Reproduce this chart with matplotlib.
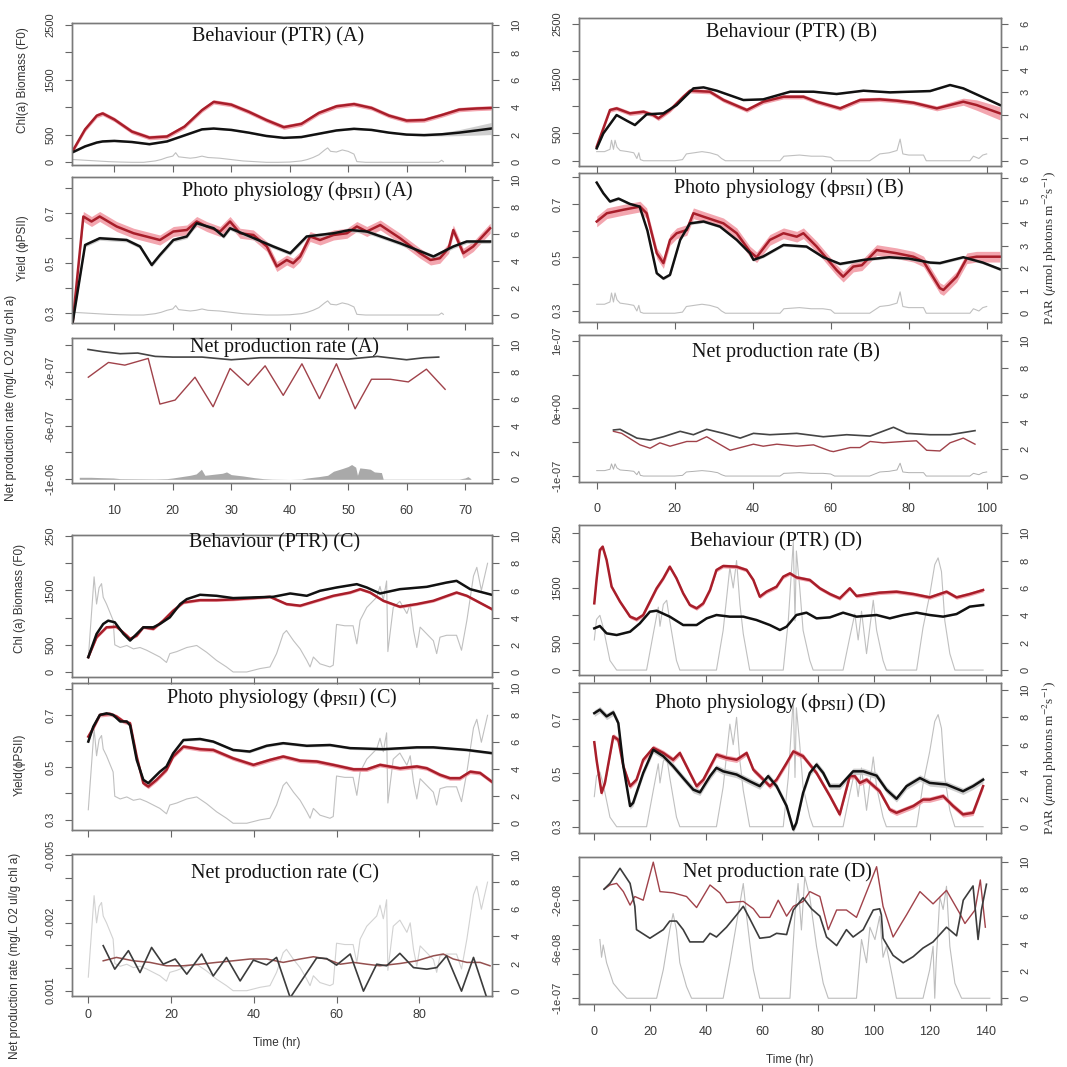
import numpy as np
import matplotlib.pyplot as plt

plt.rcParams['mathtext.fontset'] = 'stix'
plt.rcParams['xtick.direction'] = 'out'
plt.rcParams['ytick.direction'] = 'out'

# ---------------- experiment A ----------------
bio_a_x = [3, 5, 7, 8, 10, 13, 16, 19, 22, 25, 27, 30, 33, 36, 39, 42, 45, 48, 51, 54, 57, 60, 63, 66, 69, 72, 74.5]
bio_a_red = [230, 600, 850, 890, 780, 560, 450, 470, 650, 950, 1100, 1050, 920, 770, 640, 700, 900, 1020, 1060,
             990, 850, 760, 770, 860, 960, 980, 990]
bio_a_black = [190, 290, 360, 380, 390, 370, 330, 380, 490, 600, 615, 590, 540, 480, 445, 460, 520, 580, 610,
               590, 540, 505, 495, 510, 540, 580, 615]
bio_a_black_sd = [15, 15, 15, 15, 15, 15, 15, 15, 15, 15, 15, 15, 15, 15, 15, 15, 15, 15, 15, 15, 15, 15, 20,
                  30, 55, 85, 110]

par_a_x = [3, 5, 7, 9, 11, 13, 15, 17, 18, 19, 20, 20.5, 21, 22, 23, 24, 25, 26, 28, 30, 32, 34, 36, 38, 40,
           42, 43, 44, 45, 46, 46.5, 47, 48, 49, 50, 50.5, 51, 51.5, 53, 55, 58, 61, 64, 65.5, 66, 66.3]
par_a = [0.2, 0.15, 0.1, 0.05, 0.02, 0, 0, 0.1, 0.2, 0.35, 0.45, 0.7, 0.4, 0.35, 0.3, 0.35, 0.45, 0.35, 0.3,
         0.2, 0.1, 0.05, 0, 0, 0.02, 0.1, 0.2, 0.35, 0.55, 0.9, 1.05, 0.8, 0.75, 0.9, 0.8, 0.7, 0.6, 0.05, 0, 0,
         0, 0, 0, 0, 0.15, 0.05]

phot_a_red_x = [2.9, 4.7, 6.1, 7.5, 10.4, 13.3, 17.8, 20.1, 22.4, 24.1, 25.8, 28.1, 29.8, 31.5, 33.8, 36.1,
                37.8, 39.5, 40.6, 41.8, 43.5, 45.2, 47.5, 49.8, 51.5, 53.2, 55.5, 58.9, 62.3, 64.1, 65.7, 67.2,
                68, 69.7, 71.4, 74.3]
phot_a_red = [0.267, 0.687, 0.667, 0.687, 0.647, 0.62, 0.593, 0.627, 0.633, 0.667, 0.647, 0.627, 0.667, 0.62,
              0.613, 0.567, 0.487, 0.513, 0.5, 0.527, 0.607, 0.593, 0.613, 0.62, 0.647, 0.627, 0.653, 0.6, 0.54,
              0.513, 0.52, 0.56, 0.633, 0.54, 0.567, 0.64]
phot_a_black_x = [2.9, 5, 7.5, 12.1, 14.4, 16.4, 17.8, 20.1, 22.4, 24.1, 27, 28.7, 29.8, 33.2, 37.2, 40.1,
                  42.9, 47.5, 50.3, 53.2, 58.9, 64.6, 68, 70.3, 74.3]
phot_a_black = [0.267, 0.573, 0.6, 0.593, 0.567, 0.493, 0.533, 0.593, 0.607, 0.66, 0.64, 0.607, 0.64, 0.607,
                0.567, 0.54, 0.607, 0.62, 0.633, 0.627, 0.58, 0.527, 0.567, 0.587, 0.587]

net_a_black_x = [5.5, 8, 11, 14, 17, 20, 25, 30, 35, 40, 45, 50, 55, 60, 63, 65.5]
net_a_black = [-3.3e-8, -5e-8, -6.5e-8, -6e-8, -8.5e-8, -9e-8, -9e-8, -1.1e-7, -9.5e-8, -9.5e-8, -1.0e-7,
               -1.05e-7, -8.5e-8, -1.1e-7, -9.5e-8, -9e-8]
net_a_red_x = [5.55, 9.0, 11.8, 15.8, 17.8, 20.4, 23.8, 26.9, 29.8, 32.9, 35.8, 38.9, 42.1, 45.1, 48.0, 51.2,
               54.0, 57.2, 60.3, 63.4, 66.6]
net_a_red = [-2.4e-7, -1.3e-7, -1.5e-7, -1.0e-7, -4.4e-7, -4.1e-7, -2.4e-7, -4.6e-7, -1.75e-7, -3.0e-7,
             -1.55e-7, -3.75e-7, -1.4e-7, -4.0e-7, -1.4e-7, -4.75e-7, -2.55e-7, -2.55e-7, -2.75e-7, -1.8e-7,
             -3.3e-7]
par_a_net_x = [4, 6, 8, 9.8, 11, 14, 17, 19, 20, 21.5, 23, 24, 24.9, 25.5, 26.5, 27.5, 28.5, 29.2, 30, 32, 34,
               35.5, 37, 40, 42, 43, 45, 46.5, 47.5, 49, 50, 50.6, 51.3, 51.6, 52, 53, 53.8, 54.5, 55.7, 56, 58,
               62, 66, 69, 70, 70.5, 71]
par_a_net = [0.15, 0.15, 0.12, 0.1, 0.05, 0.04, 0.03, 0.05, 0.1, 0.2, 0.3, 0.4, 0.75, 0.3, 0.35, 0.4, 0.45,
             0.55, 0.35, 0.25, 0.12, 0.05, 0.02, 0, 0.02, 0.1, 0.2, 0.3, 0.6, 0.8, 0.95, 1.1, 0.9, 0.3, 0.85,
             0.8, 0.75, 0.55, 0.5, 0.02, 0.02, 0.02, 0.02, 0.02, 0.1, 0.2, 0.05]

# ---------------- experiment B ----------------
bio_b_red_x = [0, 3.4, 5.1, 8.5, 12, 14.5, 15.8, 18.8, 22.2, 23.9, 29, 32.5, 38.5, 42.7, 47.9, 53, 56.4, 62.4,
               67.5, 72.6, 76.9, 81.2, 87.2, 94, 97.4, 103.4]
bio_b_red = [256, 927, 957, 866, 896, 835, 774, 927, 1170, 1280, 1262, 1110, 927, 1079, 1170, 1170, 1079, 957,
             1110, 1122, 1098, 1061, 957, 1079, 1018, 866]
bio_b_red_sd = [40, 40, 40, 40, 40, 40, 40, 40, 40, 40, 40, 40, 40, 40, 40, 40, 40, 40, 40, 40, 40, 40, 45,
                65, 95, 120]
bio_b_black_x = [0, 1.7, 5.1, 7.7, 9.8, 12.8, 17.1, 20.5, 24.8, 27.4, 30.8, 37.6, 42.7, 49.6, 55.6, 61.5, 68.4,
                 75.2, 85.5, 90.6, 94, 103.4]
bio_b_black = [226, 500, 835, 732, 652, 848, 866, 1018, 1323, 1341, 1280, 1110, 1122, 1262, 1262, 1220, 1280,
               1250, 1274, 1384, 1323, 1018]

par_b_x = [0, 2, 3.4, 3.8, 4.3, 4.7, 5.2, 6, 8, 9.5, 10.3, 10.8, 11.2, 12, 20, 22, 23, 25, 27, 29, 30, 31, 32,
           33, 40, 47, 48, 52, 55, 58, 60, 61, 70, 72.6, 75, 77, 77.8, 78.5, 80, 83.8, 84.5, 90, 95.7, 96.6, 98,
           99, 100]
par_b = [0.4, 0.4, 0.5, 0.9, 0.5, 0.9, 0.6, 0.45, 0.4, 0.35, 0.1, 0.35, 0.05, 0, 0, 0.05, 0.3, 0.35, 0.4, 0.35,
         0.3, 0.25, 0.1, 0, 0, 0, 0.2, 0.25, 0.2, 0.2, 0.15, 0, 0, 0.3, 0.35, 0.45, 0.95, 0.3, 0.25, 0.25, 0, 0,
         0, 0.2, 0.1, 0.25, 0.3]

phot_b_black_x = [0, 1.7, 3.4, 5.6, 8.5, 11, 13, 15.4, 17.1, 18.8, 21.4, 23.9, 27.4, 31.6, 35.9, 39.3, 40.2,
                  42.7, 47.9, 53.8, 58.1, 62.4, 68.4, 75, 80, 85.5, 88, 94, 99, 103.4]
phot_b_black = [0.78, 0.74, 0.709, 0.72, 0.7, 0.69, 0.6, 0.44, 0.42, 0.434, 0.565, 0.627, 0.634, 0.615, 0.565,
                0.515, 0.49, 0.503, 0.546, 0.54, 0.5, 0.475, 0.49, 0.5, 0.495, 0.48, 0.478, 0.5, 0.48, 0.455]
phot_b_red_x = [0, 2.6, 6.8, 11.1, 12.8, 15.4, 17.1, 18.8, 20.5, 23.1, 24.8, 27.4, 32.5, 35.9, 39.3, 41, 44.4,
                47.9, 51.3, 53, 56.4, 61.5, 63.2, 65.8, 68, 71.8, 76.9, 81.2, 83.8, 88, 88.9, 92.3, 94.9, 97.4,
                103.4]
phot_b_red = [0.634, 0.665, 0.678, 0.69, 0.665, 0.515, 0.478, 0.565, 0.59, 0.602, 0.665, 0.652, 0.627, 0.59,
              0.521, 0.5, 0.565, 0.59, 0.577, 0.59, 0.54, 0.452, 0.427, 0.465, 0.47, 0.527, 0.515, 0.502, 0.484,
              0.384, 0.377, 0.427, 0.496, 0.502, 0.502]

net_b_black_x = [4.3, 6, 10.3, 13.7, 17.1, 21.4, 24.8, 28.2, 32.5, 36.8, 40.2, 44.4, 51.3, 58.1, 64.1, 70.1,
                 76.1, 79.5, 85.5, 90.6, 97]
net_b_black = [-3.2e-8, -3.1e-8, -4.4e-8, -4.7e-8, -4.2e-8, -3.4e-8, -3.9e-8, -3.1e-8, -3.7e-8, -4.4e-8,
               -3.7e-8, -3.9e-8, -3.7e-8, -4.2e-8, -3.9e-8, -4.1e-8, -2.8e-8, -3.7e-8, -3.9e-8, -3.9e-8, -3.3e-8]
net_b_red_x = [4.3, 6.4, 11.1, 13.7, 16.2, 18.8, 23.1, 25.6, 28.2, 34.2, 40.2, 42.7, 46.2, 51.3, 55.6, 59.8,
               60.7, 65, 67.5, 70.1, 73.5, 78.6, 82, 84.6, 88, 90.6, 94, 97]
net_b_red = [-3.4e-8, -3.7e-8, -5.4e-8, -5.9e-8, -5.1e-8, -5.6e-8, -4.9e-8, -4.9e-8, -4.2e-8, -6.2e-8,
             -5.3e-8, -5.6e-8, -5.3e-8, -5.6e-8, -5.4e-8, -6.3e-8, -6.4e-8, -5.8e-8, -5.8e-8, -4.9e-8, -5.1e-8,
             -4.9e-8, -4.8e-8, -6.2e-8, -6.3e-8, -5.1e-8, -4.4e-8, -5.3e-8]

# ---------------- experiment C ----------------
bio_c_black_x = [0, 2, 3.6, 4.8, 6.4, 8.5, 10.1, 11.7, 13.3, 15.7, 17.3, 19.7, 22.2, 23.8, 27, 31, 35, 39.9,
                 44.7, 48.8, 52.8, 56, 60, 64.9, 67.3, 70.5, 75.3, 81.8, 86.6, 89, 92.3, 97.5]
bio_c_black = [274, 701, 884, 945, 915, 701, 579, 701, 823, 823, 884, 1006, 1250, 1341, 1421, 1402, 1360, 1372,
               1384, 1445, 1402, 1494, 1555, 1616, 1555, 1445, 1524, 1567, 1646, 1677, 1524, 1421]
bio_c_red_x = [0, 2, 4.4, 6.8, 9.3, 10.1, 11.7, 13.3, 15.7, 18.1, 20.5, 23, 27, 31, 35, 39.9, 43.9, 47.9,
               51.2, 55.2, 59.2, 63.3, 65.7, 68.1, 71.3, 75.3, 79.4, 83.4, 89, 91.5, 97.5]
bio_c_red = [274, 640, 823, 835, 671, 610, 671, 823, 793, 945, 1128, 1280, 1323, 1323, 1335, 1360, 1384, 1250,
             1220, 1311, 1402, 1463, 1524, 1463, 1311, 1201, 1250, 1311, 1463, 1402, 1159]

par_c_x = [0, 1.4, 2, 2.6, 3.2, 3.6, 4.4, 5.2, 6, 6.4, 7.7, 9.3, 10.9, 12.5, 14.1, 15.7, 17.3, 18.9, 19.7,
           21.4, 23.8, 26.2, 28.6, 31, 33.4, 35, 38.3, 41.5, 43.9, 45.5, 47.1, 47.9, 49.6, 51.2, 52.8, 53.6,
           54.4, 56, 58.4, 59.2, 60, 62, 64, 64.9, 65.7, 67.3, 69.7, 70.5, 71.3, 72.1, 72.4, 73.7, 75.3, 77,
           77.8, 78.6, 79.4, 80.2, 81.8, 83.4, 84.2, 85, 86.6, 89, 90.2, 91.5, 93.1, 93.9, 95, 96.5]
par_c = [1.0, 7.0, 5.0, 6.2, 6.5, 5.5, 5.0, 4.4, 3.8, 2.0, 1.8, 1.95, 1.7, 1.8, 1.6, 1.35, 1.1, 0.7, 1.35, 1.5,
         1.8, 1.95, 1.45, 0.85, 0.37, 0.0, 0.0, 0.25, 0.37, 1.35, 2.8, 3.05, 2.3, 1.7, 0.85, 0.37, 1.1, 0.6,
         0.37, 0.5, 3.5, 3.4, 3.4, 2.07, 3.8, 4.75, 5.5, 6.3, 5.3, 6.7, 1.5, 4.75, 5.2, 4.3, 5.0, 3.05, 1.8,
         3.3, 2.8, 2.3, 1.35, 2.56, 2.7, 2.7, 1.6, 3.8, 7.07, 7.7, 6.0, 8.0]

phot_c_black_x = [0, 1.2, 2.8, 4.4, 6, 7.7, 9.3, 10.1, 11.7, 13.3, 14.5, 15.7, 17.3, 18.9, 20.5, 23, 27, 30.2,
                  35, 39, 43.1, 47.1, 52.8, 58.4, 63.3, 71.3, 79.4, 83.4, 91.5, 97.5]
phot_c_black = [0.598, 0.655, 0.7, 0.706, 0.7, 0.675, 0.675, 0.66, 0.528, 0.452, 0.439, 0.458, 0.483, 0.503,
                0.553, 0.604, 0.608, 0.598, 0.566, 0.56, 0.582, 0.592, 0.582, 0.585, 0.573, 0.569, 0.576,
                0.576, 0.566, 0.554]
phot_c_red_x = [0, 1.2, 2.8, 5.2, 6.8, 8.5, 10.1, 11.7, 13.3, 14.5, 16.5, 18.9, 20.5, 23, 27, 30.2, 35, 39.9,
                43.9, 47.1, 51.2, 55.2, 59.2, 64.1, 67.3, 70.5, 75.3, 79.4, 81.8, 85, 87.4, 89.8, 92.3, 94.7,
                97.5]
phot_c_red = [0.617, 0.65, 0.7, 0.704, 0.694, 0.675, 0.668, 0.541, 0.439, 0.426, 0.452, 0.49, 0.541, 0.579,
              0.569, 0.566, 0.534, 0.509, 0.528, 0.541, 0.525, 0.522, 0.509, 0.492, 0.492, 0.509, 0.496, 0.503,
              0.496, 0.471, 0.458, 0.458, 0.483, 0.478, 0.445]

net_c_black_x = [3.6, 6.4, 9.7, 12.5, 15.3, 18.1, 21, 23.8, 27.4, 30.2, 33.4, 36.7, 39.9, 43.1, 45.5, 48.8,
                 55.2, 57.6, 60, 63.3, 66.5, 69.7, 72.1, 75.3, 78.6, 81.8, 84.2, 86.6, 90.2, 93.1, 96.3]
net_c_black = [-0.00099, 0.00005, -0.00077, 0.0002, -0.00091, -0.00017, -0.0004, 0.00027, -0.00062, 0.00035,
               -0.00047, 0.00057, -0.00035, -0.00014, -0.00047, 0.00131, -0.00045, -0.00042, -0.00013,
               -0.00062, 0.00102, -0.00017, -0.0001, -0.00065, -0.00002, 0.00005, -0.00002, -0.00054, 0.00102,
               -0.00047, 0.00131]
net_c_red_x = [3.6, 6.8, 10.9, 14.9, 18.9, 22.9, 27, 31, 35, 39.1, 43.1, 47.1, 51.2, 54.4, 57.6, 60.9, 64.1,
               67.3, 70.5, 75.3, 79.4, 83.4, 85.8, 88.2, 91.5, 94.7, 97.1]
net_c_red = [-0.00032, -0.00047, -0.00032, -0.00025, -0.0001, -0.0001, -0.00017, -0.00025, -0.00032, -0.0004,
             -0.0004, -0.00025, -0.0004, -0.0005, -0.0004, -0.00017, -0.00025, -0.00017, -0.0001, -0.0002,
             -0.00032, -0.00054, -0.00062, -0.0004, -0.00025, -0.00025, -0.0001]

# ---------------- experiment D ----------------
bio_d_red_x = [0, 0.8, 2, 3, 4.4, 6.2, 9.2, 12.8, 15.1, 17.5, 19.9, 22.3, 24.7, 27, 29.4, 31.8, 34.2, 36.6, 39,
               41.4, 43.7, 46.1, 50.9, 54.5, 56.9, 59.2, 61.6, 65.2, 67.6, 70, 72.3, 77.1, 80.7, 84.3, 87.8,
               91.4, 93.8, 96.2, 102.1, 108.1, 114.1, 120, 126, 129.6, 134.3, 139.1]
bio_d_red = [1220, 1646, 2195, 2256, 2012, 1524, 1250, 976, 927, 1006, 1250, 1494, 1677, 1890, 1677, 1402, 1189,
             1128, 1220, 1463, 1829, 1902, 1890, 1829, 1646, 1341, 1433, 1524, 1707, 1768, 1695, 1646, 1494,
             1390, 1311, 1494, 1354, 1372, 1415, 1433, 1390, 1329, 1433, 1329, 1390, 1463]
bio_d_black_x = [0, 2, 4.4, 8, 12.8, 16.3, 19.9, 22.3, 27, 31.8, 36.6, 40.2, 43.7, 48.5, 53.3, 58, 62.8, 66.4,
                 68.8, 72.3, 75.9, 79.5, 84.3, 89, 93.8, 101, 105.7, 110.5, 115.3, 120, 124.8, 129.6, 134.3,
                 139.1]
bio_d_black = [762, 805, 671, 640, 701, 854, 1067, 1085, 976, 823, 823, 945, 1006, 976, 976, 915, 823, 732, 793,
               1006, 1049, 945, 963, 1049, 976, 1006, 945, 1006, 1049, 1006, 976, 1024, 1159, 1189]

par_d_x = [0, 0.8, 2, 3.2, 5.6, 8, 18.7, 21.1, 22.9, 23.5, 24.7, 25.9, 27, 29.4, 30.6, 43.7, 46.1, 48.5, 49.7,
           50.9, 52.1, 53.3, 55.6, 67.6, 69.4, 71.2, 71.8, 72.3, 73.5, 74.7, 77.1, 78.3, 89, 91.4, 93.2, 94.4,
           95.6, 97.4, 99.8, 101, 103.3, 104.5, 115.3, 117.6, 120, 121.8, 123, 124.2, 125.4, 127.2, 129, 139.1]
par_d = [2.2, 3.7, 4.0, 3.1, 0.7, 0, 0, 2.65, 4.6, 3.2, 4.8, 5.1, 3.6, 0.7, 0, 0, 2.9, 7.5, 6.0, 8.0, 4.8, 2.65,
         0, 0, 3.6, 9.4, 3.6, 8.7, 6.0, 2.9, 0.7, 0, 0, 2.4, 4.1, 2.2, 4.3, 1.2, 5.1, 2.9, 0.7, 0, 0, 3.1, 5.5,
         7.7, 8.2, 7.2, 3.6, 1.2, 0, 0]

phot_d_black_x = [0, 2, 4.4, 6.8, 8.6, 10.4, 12.8, 13.9, 17.5, 21.1, 24.7, 28.2, 31.8, 35.4, 37.8, 41.4, 43.7,
                  46.1, 50.9, 55.6, 59.2, 62.2, 65.2, 68.8, 71.2, 72.3, 74.7, 77.1, 79.5, 81.9, 84.3, 87.8, 92.6,
                  96.2, 101, 104.5, 108.1, 111.7, 116.5, 120, 126, 131.9, 135.5, 139.1]
phot_d_black = [0.722, 0.735, 0.71, 0.725, 0.685, 0.525, 0.377, 0.389, 0.5, 0.586, 0.562, 0.525, 0.481, 0.438,
                0.428, 0.488, 0.519, 0.506, 0.494, 0.469, 0.451, 0.488, 0.451, 0.377, 0.29, 0.315, 0.426, 0.5,
                0.531, 0.5, 0.451, 0.451, 0.506, 0.506, 0.49, 0.438, 0.404, 0.451, 0.481, 0.463, 0.457, 0.432,
                0.451, 0.475]
phot_d_red_x = [0, 0.8, 2.6, 3.8, 6.8, 8.6, 10.4, 12.8, 15.1, 17.5, 21.1, 24.7, 28.2, 30.6, 34.2, 36.6, 39,
                43.7, 47.3, 50.9, 54.5, 56.9, 60.5, 62.8, 65.2, 68.8, 71.2, 74.7, 79.5, 84.3, 87.8, 91.4, 93.2,
                95, 97.4, 102.1, 105.7, 108.1, 114.1, 117.6, 120, 124.8, 128.4, 131.9, 135.5, 139.1]
phot_d_red = [0.614, 0.549, 0.426, 0.463, 0.636, 0.623, 0.525, 0.451, 0.475, 0.549, 0.593, 0.574, 0.549, 0.574,
              0.5, 0.451, 0.475, 0.568, 0.556, 0.549, 0.574, 0.512, 0.475, 0.451, 0.475, 0.537, 0.58, 0.562,
              0.5, 0.414, 0.346, 0.488, 0.488, 0.463, 0.475, 0.432, 0.364, 0.352, 0.377, 0.401, 0.401, 0.414,
              0.377, 0.346, 0.352, 0.451]

net_d_black_x = [3.5, 5.6, 9.2, 12.8, 14.5, 15.1, 19.9, 24.7, 27, 29.4, 31.8, 34.2, 39, 41.4, 43.7, 47.3, 50.9,
                 53.3, 55.6, 59.2, 62.8, 65.2, 68.8, 71.2, 74.7, 77.7, 80.7, 83.1, 86.7, 90.2, 92.6, 96.2, 99.8,
                 102.1, 102.7, 103.3, 106.9, 110.5, 114.1, 117.6, 121.2, 126, 129.6, 132, 135.5, 137.3, 138.5,
                 140.3]
net_d_black = [-1.1e-8, -0.63e-8, 0.6e-8, -0.63e-8, -2.5e-8, -4.4e-8, -5.1e-8, -4.4e-8, -3.7e-8, -3.7e-8,
               -4.4e-8, -5.4e-8, -5.4e-8, -4.7e-8, -5e-8, -4.2e-8, -3.2e-8, -2.5e-8, -3.5e-8, -5.1e-8, -5e-8,
               -4.7e-8, -4.8e-8, -2.8e-8, -1.8e-8, -2.7e-8, -3.3e-8, -5e-8, -5.7e-8, -4.4e-8, -5e-8, -4.4e-8,
               -2.8e-8, -2.7e-8, -3.2e-8, -5.1e-8, -6.5e-8, -7.1e-8, -6.6e-8, -5.9e-8, -5.4e-8, -4.2e-8,
               -4.9e-8, -2e-8, -0.84e-8, -5.2e-8, -2.8e-8, -0.7e-8]
net_d_red_x = [3.5, 5.6, 8, 10.4, 12.8, 14.5, 17.5, 21.1, 23.5, 28.2, 33, 36.6, 41.4, 44.9, 47.3, 53.3, 56.9,
               59.2, 62.8, 65.8, 68.8, 71.2, 74.7, 77.1, 80.7, 83.7, 86.7, 90.2, 93.8, 101, 103.3, 106.9, 111.7,
               116.5, 121.2, 126, 130.8, 132.6, 136.2, 138.1, 139.9]
net_d_red = [-1.1e-8, -0.76e-8, -0.63e-8, -1.3e-8, -2.4e-8, -1.7e-8, -2e-8, 1.1e-8, -1.3e-8, -1.4e-8, -1.7e-8,
             -2.6e-8, -0.76e-8, -1.4e-8, -2.2e-8, -2.1e-8, -2.7e-8, -3.4e-8, -3.4e-8, -2e-8, -3.3e-8, -2.5e-8,
             -2.1e-8, -1.3e-8, -1.7e-8, -4.4e-8, -2.8e-8, -2.8e-8, -3.4e-8, 0.73e-8, -2.5e-8, -5e-8, -3.2e-8,
             -1.3e-8, -2.3e-8, -1.2e-8, -3.1e-8, -3.9e-8, -2.8e-8, -0.35e-8, -4.2e-8]
par_d_net_x = [2, 2.6, 3.2, 4.4, 6.8, 9.2, 11.6, 22.3, 24.7, 27, 28.2, 29.4, 30.6, 33, 34.8, 46.1, 48.5, 50.9,
               53.3, 54.5, 55.6, 56.9, 59.2, 70, 71.8, 72.9, 74.1, 75.3, 77.1, 79.5, 81.9, 83.7, 93.8, 95.6,
               97.4, 98.6, 100.4, 102.1, 103.3, 104.5, 106.9, 108.1, 117.6, 120, 121.2, 121.8, 122.3, 123.6,
               124.8, 126, 127.2, 129, 131.4, 141.5]
par_d_net = [4.3, 3.0, 3.9, 2.6, 1.1, 0.5, 0, 0, 2.1, 5.0, 6.2, 5.0, 2.6, 0.85, 0, 0, 2.6, 5.5, 8.4, 6.0, 4.1,
             2.1, 0, 0, 6.2, 8.4, 5.0, 8.9, 7.4, 3.8, 1.1, 0, 0, 4.3, 2.6, 5.2, 4.3, 6.0, 3.0, 3.8, 1.3, 0, 0,
             2.1, 3.8, 0, 2.6, 7.4, 6.5, 8.2, 3.8, 1.1, 0, 0]

# ---------------- drawing ----------------
W, H = 1067, 1067
fig = plt.figure(figsize=(W / 100, H / 100), dpi=100)

SANS = ['Liberation Sans', 'DejaVu Sans']
SERIF = ['Liberation Serif', 'DejaVu Serif']
RED, PINK = '#a81e2a', '#f29ca7'
BLACK, GREY = '#111111', '#c4c4c4'
PARC = '#c0c0c0'
TICKC = '#3a3a3a'


def rect(x0, y0, x1, y1):
    return [x0 / W, 1 - y1 / H, (x1 - x0) / W, (y1 - y0) / H]


def panel(box, xlim, xticks, show_x, xpad, ylim, yticks, ylabels, rlim, rticks, title, tpos):
    ax = fig.add_axes(rect(*box))
    ax2 = ax.twinx()
    ax.set_zorder(ax2.get_zorder() + 1)
    ax.patch.set_visible(False)
    ax.set_xlim(*xlim)
    ax.set_ylim(*ylim)
    ax2.set_ylim(*rlim)
    ax.set_xticks(xticks)
    ax.set_xticklabels([str(t) for t in xticks] if show_x else [''] * len(xticks),
                       fontsize=9, family=SANS, color=TICKC)
    ax.set_yticks(yticks)
    ax.set_yticklabels(ylabels, rotation=90, va='center', fontsize=8, family=SANS, color=TICKC)
    ax2.set_yticks(rticks)
    ax2.set_yticklabels([str(t) for t in rticks], rotation=90, va='center', fontsize=8,
                        family=SANS, color=TICKC)
    ax.tick_params(axis='x', length=5, width=0.8, color='#666666', pad=xpad)
    ax.tick_params(axis='y', length=5, width=0.8, color='#666666', pad=7)
    ax2.tick_params(axis='y', length=5, width=0.8, color='#666666', pad=9)
    for a in (ax, ax2):
        for s in a.spines.values():
            s.set_color('#7a7a7a')
            s.set_linewidth(1.0)
    fig.text(tpos[0] / W, 1 - tpos[1] / H, title, ha='center', va='center', fontsize=14.5,
             family=SERIF, color='#141414')
    return ax, ax2


def smooth_pair(ax, xr, yr, sr, xb, yb, sb):
    xr, yr, xb, yb = map(np.asarray, (xr, yr, xb, yb))
    ax.fill_between(xr, yr - np.asarray(sr), yr + np.asarray(sr), color=PINK, lw=0, alpha=0.9)
    ax.fill_between(xb, yb - np.asarray(sb), yb + np.asarray(sb), color=GREY, lw=0, alpha=0.8)
    ax.plot(xr, yr, color=RED, lw=1.8)
    ax.plot(xb, yb, color=BLACK, lw=1.8)


bio_ticks = [0, 500, 1000, 1500, 2000, 2500]
bio_labels = ['0', '500', '', '1500', '', '2500']
bio_labels_cut = ['0', '500', '', '1500', '', '250']
yld_ticks = [0.3, 0.4, 0.5, 0.6, 0.7, 0.8]
yld_labels = ['0.3', '', '0.5', '', '0.7', '']
par10 = [0, 2, 4, 6, 8, 10]
par6 = [0, 1, 2, 3, 4, 5, 6]

xa = (2.76, 74.62)
xta = [10, 20, 30, 40, 50, 60, 70]
xb_ = (-4.54, 103.67)
xtb = [0, 20, 40, 60, 80, 100]
xc = (-3.94, 97.57)
xtc = [0, 20, 40, 60, 80]
xd = (-5.47, 145.5)
xtd = [0, 20, 40, 60, 80, 100, 120, 140]

PHI = r'($\mathrm{\phi}_{\mathrm{PSII}}$)'

# A
ax, ax2 = panel((72, 23, 492, 165), xa, xta, False, 10, (-49, 2536), bio_ticks, bio_labels,
                (-0.196, 10.144), par10, 'Behaviour (PTR) (A)', (278, 37))
ax2.plot(par_a_x, par_a, color=PARC, lw=0.8)
smooth_pair(ax, bio_a_x, bio_a_red, 40, bio_a_x, bio_a_black, bio_a_black_sd)

ax, ax2 = panel((72, 177, 492, 323), xa, xta, False, 10, (0.261, 0.845), yld_ticks, yld_labels,
                (-0.59, 10.22), par10, 'Photo physiology ' + PHI + ' (A)', (297, 191))
ax2.plot(par_a_x, par_a, color=PARC, lw=0.8)
smooth_pair(ax, phot_a_red_x, phot_a_red, 0.02, phot_a_black_x, phot_a_black, 0.008)

ax, ax2 = panel((72, 338, 492, 483), xa, xta, True, 11, (-1.0275e-6, 5.2e-8),
                [0, -2e-7, -4e-7, -6e-7, -8e-7, -1e-6], ['', '-2e-07', '', '-6e-07', '', '-1e-06'],
                (-0.275, 10.52), par10, 'Net production rate (A)', (284, 347))
ax2.fill_between(par_a_net_x, 0, par_a_net, color='#a9a9a9', lw=0)
ax.plot(net_a_red_x, net_a_red, color='#a0424a', lw=1.0)
ax.plot(net_a_black_x, net_a_black, color='#444444', lw=1.2)

# B
ax, ax2 = panel((579, 18, 1001, 166), xb_, xtb, False, 10, (-97, 2610), bio_ticks, bio_labels,
                (-0.23, 6.26), par6, 'Behaviour (PTR) (B)', (791, 33))
ax2.plot(par_b_x, par_b, color=PARC, lw=0.8)
smooth_pair(ax, bio_b_red_x, bio_b_red, bio_b_red_sd, bio_b_black_x, bio_b_black, 12)

ax, ax2 = panel((579, 173, 1001, 322), xb_, xtb, False, 10, (0.257, 0.816), yld_ticks, yld_labels,
                (-0.39, 6.24), par6, 'Photo physiology ' + PHI + ' (B)', (789, 188))
ax2.plot(par_b_x, par_b, color=PARC, lw=0.8)
smooth_pair(ax, phot_b_red_x, phot_b_red, 0.02, phot_b_black_x, phot_b_black, 0.005)

ax, ax2 = panel((579, 335, 1001, 482), xb_, xtb, True, 10, (-1.089e-7, 1.084e-7),
                [-1e-7, -5e-8, 0, 5e-8, 1e-7], ['-1e-07', '', '0e+00', '', '1e-07'],
                (-0.44, 10.42), par10, 'Net production rate (B)', (786, 352))
ax2.plot(par_b_x, par_b, color='#b0b0b0', lw=0.7)
ax.plot(net_b_red_x, net_b_red, color='#a0424a', lw=1.0)
ax.plot(net_b_black_x, net_b_black, color='#444444', lw=1.2)

# C
ax, ax2 = panel((72, 535, 492, 677), xc, xtc, False, 10, (-91, 2520), bio_ticks, bio_labels_cut,
                (-0.37, 10.08), par10, 'Behaviour (PTR) (C)', (275, 543))
ax2.plot(par_c_x, par_c, color=PARC, lw=0.8)
smooth_pair(ax, bio_c_red_x, bio_c_red, 25, bio_c_black_x, bio_c_black, 10)

ax, ax2 = panel((72, 683, 492, 830), xc, xtc, False, 10, (0.26, 0.822), yld_ticks, yld_labels,
                (-0.5, 10.39), par10, 'Photo physiology ' + PHI + ' (C)', (282, 698))
ax2.plot(par_c_x, par_c, color=PARC, lw=0.8)
smooth_pair(ax, phot_c_red_x, phot_c_red, 0.008, phot_c_black_x, phot_c_black, 0.005)

ax, ax2 = panel((72, 854, 492, 996), xc, xtc, True, 4, (0.001235, -0.00504),
                [-0.005, -0.004, -0.003, -0.002, -0.001, 0.0, 0.001],
                ['-0.005', '', '', '-0.002', '', '', '0.001'],
                (-0.39, 10.07), par10, 'Net production rate (C)', (285, 873))
ax2.plot(par_c_x, par_c, color='#d2d2d2', lw=0.8)
ax.plot(net_c_red_x, net_c_red, color='#94504f', lw=1.1)
ax.plot(net_c_black_x, net_c_black, color='#3c3c3c', lw=1.2)

# D
ax, ax2 = panel((579, 525, 1001, 675), xd, xtd, False, 10, (-91, 2652), bio_ticks, bio_labels_cut,
                (-0.36, 10.6), par10, 'Behaviour (PTR) (D)', (776, 542))
ax2.plot(par_d_x, par_d, color=PARC, lw=0.8)
smooth_pair(ax, bio_d_red_x, bio_d_red, 35, bio_d_black_x, bio_d_black, 10)

ax, ax2 = panel((579, 683, 1001, 833), xd, xtd, False, 10, (0.277, 0.834), yld_ticks, yld_labels,
                (-0.46, 10.51), par10, 'Photo physiology ' + PHI + ' (D)', (770, 703))
ax2.plot(par_d_x, par_d, color=PARC, lw=0.8)
smooth_pair(ax, phot_d_red_x, phot_d_red, 0.01, phot_d_black_x, phot_d_black, 0.012)

ax, ax2 = panel((579, 857, 1001, 1004), xd, xtd, True, 11, (-1.046e-7, 1.52e-8),
                [0, -2e-8, -4e-8, -6e-8, -8e-8, -1e-7], ['', '-2e-08', '', '-6e-08', '', '-1e-07'],
                (-0.42, 10.34), par10, 'Net production rate (D)', (777, 872))
ax2.plot(par_d_net_x, par_d_net, color='#bdbdbd', lw=0.8)
ax.plot(net_d_red_x, net_d_red, color='#a0424a', lw=1.0)
ax.plot(net_d_black_x, net_d_black, color='#3c3c3c', lw=1.2)

# axis titles
lab = dict(rotation=90, ha='center', va='center', fontsize=8.5, family=SANS, color='#333333')
fig.text(23 / W, 1 - 80 / H, 'Chl(a) Biomass (F0)', **lab)
fig.text(23 / W, 1 - 248 / H, 'Yield (ϕPSII)', **lab)
fig.text(11 / W, 1 - 398 / H, 'Net production rate (mg/L O2 ul/g chl a)', **lab)
fig.text(20 / W, 1 - 598 / H, 'Chl (a) Biomass (F0)', **lab)
fig.text(20 / W, 1 - 765 / H, 'Yield(ϕPSII)', **lab)
fig.text(15 / W, 1 - 956 / H, 'Net production rate (mg/L O2 ul/g chl a)', **lab)

par_lab = r'PAR ($\mu$mol photons m$^{-2}$s$^{-1}$)'
fig.text(1050 / W, 1 - 248 / H, par_lab, rotation=90, ha='center', va='center', fontsize=9.5,
         family=SERIF, color='#333333')
fig.text(1050 / W, 1 - 758 / H, par_lab, rotation=90, ha='center', va='center', fontsize=9.5,
         family=SERIF, color='#333333')

fig.text(277 / W, 1 - 1043 / H, 'Time (hr)', ha='center', va='center', fontsize=8.5, family=SANS,
         color='#333333')
fig.text(790 / W, 1 - 1060 / H, 'Time (hr)', ha='center', va='center', fontsize=8.5, family=SANS,
         color='#333333')

fig.savefig('out.png', dpi=100, facecolor='white')
